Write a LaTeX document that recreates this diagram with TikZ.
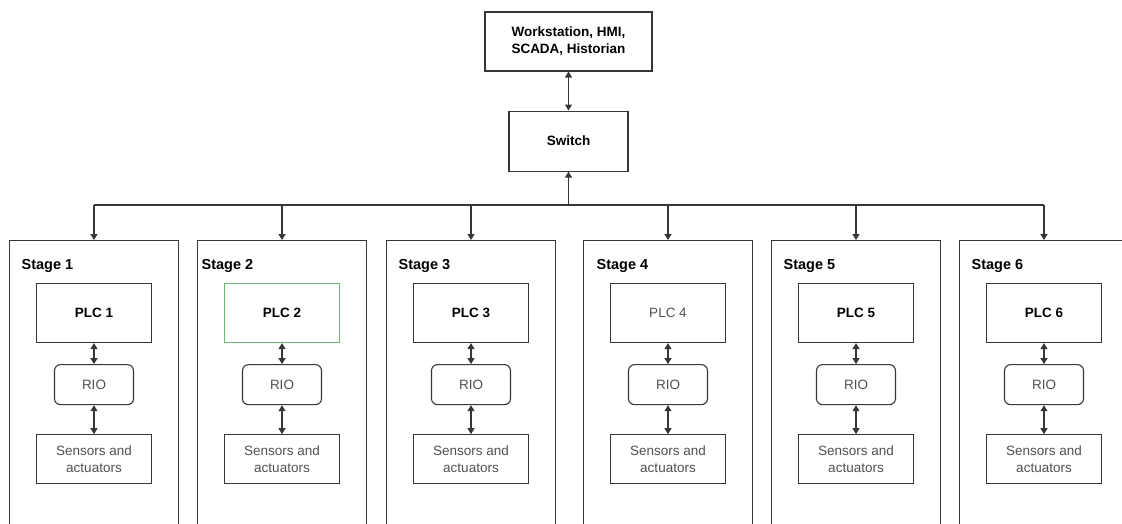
\documentclass[tikz,border=0pt]{standalone}
\usepackage{fontspec}
\setmainfont{Liberation Sans}
\usepackage{tikz}
\usetikzlibrary{arrows, arrows.meta, positioning}
\definecolor{colorLine}{RGB}{55,55,55}
\definecolor{colorSoft}{RGB}{80,80,80}
\definecolor{colorGreen}{RGB}{112,184,112}
\tikzset{box/.style={draw=colorLine, line width=1.1pt, align=center, inner sep=1pt, font=\fontsize{13.5}{17}\selectfont}}
\tikzset{boldbox/.style={box, text=black, font=\fontsize{13.5}{17}\selectfont\bfseries}}
\tikzset{stagebox/.style={draw=colorLine, line width=1.1pt, minimum width=169pt, minimum height=320pt, anchor=north}}
\tikzset{stagelabel/.style={inner sep=0pt, anchor=north west, font=\fontsize{14.5}{17}\selectfont\bfseries}}
\tikzset{plc/.style={boldbox, minimum width=115pt, minimum height=59pt}}
\tikzset{rio/.style={box, text=colorSoft, rounded corners=6pt, minimum width=79pt, minimum height=40pt}}
\tikzset{sensors/.style={box, text=colorSoft, minimum width=115pt, minimum height=49pt}}
\tikzset{link/.style={colorLine, line width=1.2pt}}

\begin{document}
\begin{tikzpicture}[x=1pt, y=-1pt, >={Triangle[length=6pt, width=7pt]}]
\useasboundingbox (0,0) rectangle (1122,524);
\clip (0,0) rectangle (1122,524);
\node[boldbox, minimum width=167pt, minimum height=59pt] (ws) at (568.5,41.5) {Workstation, HMI,\\SCADA, Historian};
\node[boldbox, minimum width=119pt, minimum height=60pt, below=39pt of ws] (sw) {Switch};
\coordinate (bus) at (568.5,205);
\coordinate (b1) at (94,205);
\coordinate (b2) at (282,205);
\coordinate (b3) at (471,205);
\coordinate (b4) at (668,205);
\coordinate (b5) at (856,205);
\coordinate (b6) at (1044,205);
% stages
\node[stagebox] (st1) at (94,240) {};
\node[stagebox] (st2) at (282,240) {};
\node[stagebox] (st3) at (471,240) {};
\node[stagebox] (st4) at (668,240) {};
\node[stagebox] (st5) at (856,240) {};
\node[stagebox] (st6) at (1044,240) {};
\node[stagelabel, below right=19pt and 12.5pt of st1.north west] (lb1) {Stage 1};
\node[stagelabel, below right=19pt and 4.5pt of st2.north west] (lb2) {Stage 2};
\node[stagelabel, below right=19pt and 12.5pt of st3.north west] (lb3) {Stage 3};
\node[stagelabel, below right=19pt and 13.5pt of st4.north west] (lb4) {Stage 4};
\node[stagelabel, below right=19pt and 12.5pt of st5.north west] (lb5) {Stage 5};
\node[stagelabel, below right=19pt and 12.5pt of st6.north west] (lb6) {Stage 6};
\node[plc, below=43pt of st1.north] (plc1) {PLC 1};
\node[plc, below=43pt of st2.north, draw=colorGreen] (plc2) {PLC 2};
\node[plc, below=43pt of st3.north] (plc3) {PLC 3};
\node[plc, below=43pt of st4.north, text=colorSoft, font=\fontsize{13.5}{17}\selectfont] (plc4) {PLC 4};
\node[plc, below=43pt of st5.north] (plc5) {PLC 5};
\node[plc, below=43pt of st6.north] (plc6) {PLC 6};
\node[rio, below=21pt of plc1] (rio1) {RIO};
\node[rio, below=21pt of plc2] (rio2) {RIO};
\node[rio, below=21pt of plc3] (rio3) {RIO};
\node[rio, below=21pt of plc4] (rio4) {RIO};
\node[rio, below=21pt of plc5] (rio5) {RIO};
\node[rio, below=21pt of plc6] (rio6) {RIO};
\node[sensors, below=29pt of rio1] (sa1) {Sensors and\\actuators};
\node[sensors, below=29pt of rio2] (sa2) {Sensors and\\actuators};
\node[sensors, below=29pt of rio3] (sa3) {Sensors and\\actuators};
\node[sensors, below=29pt of rio4] (sa4) {Sensors and\\actuators};
\node[sensors, below=29pt of rio5] (sa5) {Sensors and\\actuators};
\node[sensors, below=29pt of rio6] (sa6) {Sensors and\\actuators};
% links
\draw [<->, link] (ws) -- (sw);
\draw [->, link] (bus) -- (sw);
\draw [link] (b1) -- (b6);
\draw [->, link] (b1) -- (st1);
\draw [->, link] (b2) -- (st2);
\draw [->, link] (b3) -- (st3);
\draw [->, link] (b4) -- (st4);
\draw [->, link] (b5) -- (st5);
\draw [->, link] (b6) -- (st6);
\draw [<->, link] (plc1) -- (rio1);
\draw [<->, link] (plc2) -- (rio2);
\draw [<->, link] (plc3) -- (rio3);
\draw [<->, link] (plc4) -- (rio4);
\draw [<->, link] (plc5) -- (rio5);
\draw [<->, link] (plc6) -- (rio6);
\draw [<->, link] (rio1) -- (sa1);
\draw [<->, link] (rio2) -- (sa2);
\draw [<->, link] (rio3) -- (sa3);
\draw [<->, link] (rio4) -- (sa4);
\draw [<->, link] (rio5) -- (sa5);
\draw [<->, link] (rio6) -- (sa6);
\end{tikzpicture}
\end{document}
